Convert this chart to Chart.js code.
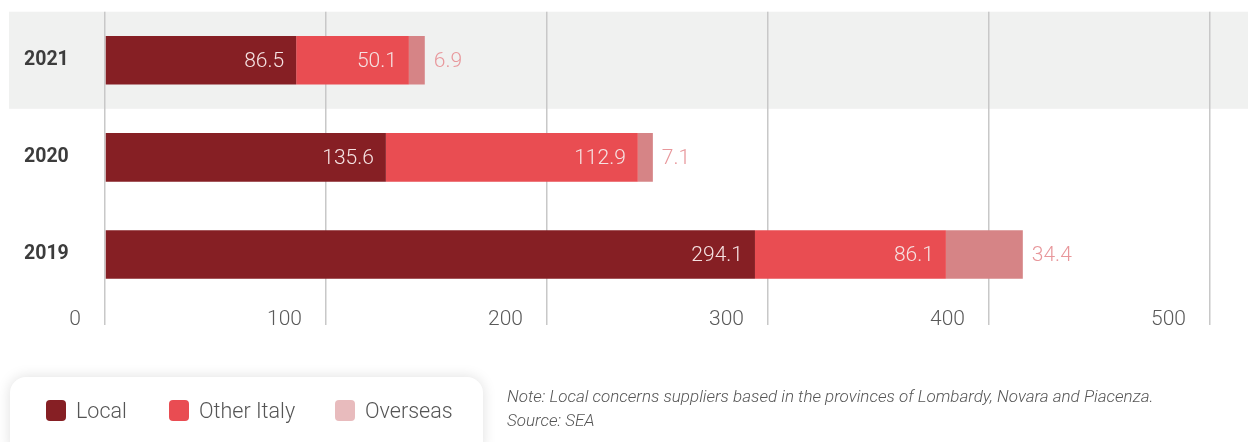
<!DOCTYPE html>
<html>
<head>
<meta charset="utf-8">
<script src="https://cdn.jsdelivr.net/npm/chart.js@4.4.1/dist/chart.umd.min.js"></script>
<style>
  html, body { margin: 0; padding: 0; background: #ffffff; }
  body { width: 1248px; height: 442px; position: relative; overflow: hidden; font-family: Roboto, "Noto Sans", sans-serif; }
  #wrap { position: absolute; left: 0; top: 0; width: 1248px; height: 442px; }
  #legendBox {
    position: absolute; left: 10px; top: 377px; width: 473px; height: 80px;
    background: #fff; border-radius: 16px;
    box-shadow: 0 0 14px rgba(0,0,0,0.13);
  }
  .item { position: absolute; top: 23px; height: 21px; display: flex; align-items: center; font-weight: 300; font-size: 21.5px; color: #555; white-space: nowrap; }
  .sw { width: 20px; height: 21px; border-radius: 4px; margin-right: 10px; flex: none; }
  #note { position: absolute; left: 507px; top: 384px; font-style: italic; font-weight: 300; font-size: 17px; line-height: 24px; color: #555; white-space: nowrap; }
</style>
</head>
<body>
<div id="wrap"><canvas id="c"></canvas></div>
<div id="legendBox"></div>
<div id="note"></div>
<script>
// ---- data ----
const categories = ['2021', '2020', '2019'];
const seriesNames = ['Local', 'Other Italy', 'Overseas'];
// bar lengths
const localValues = [86.5, 127.1, 294.1];
const otherItalyValues = [51.0, 114.0, 86.4];
const overseasValues = [7.2, 6.8, 34.8];
// printed value labels
const localLabels = ['86.5', '135.6', '294.1'];
const otherItalyLabels = ['50.1', '112.9', '86.1'];
const overseasLabels = ['6.9', '7.1', '34.4'];
const xTicks = [0, 100, 200, 300, 400, 500];
const noteLines = ['Note: Local concerns suppliers based in the provinces of Lombardy, Novara and Piacenza.', 'Source: SEA'];

// ---- styles ----
const barColors = ['#861f24', '#e94d52', '#d68486'];
const legendColors = ['#861f24', '#e94c52', '#e8bbbd'];

// legend (HTML)
const legendBox = document.getElementById('legendBox');
const legendX = [36, 159, 325];
seriesNames.forEach((n, i) => {
  const d = document.createElement('div');
  d.className = 'item';
  d.style.left = legendX[i] + 'px';
  d.innerHTML = '<div class="sw" style="background:' + legendColors[i] + '"></div><span>' + n + '</span>';
  legendBox.appendChild(d);
});
document.getElementById('note').innerHTML = noteLines.join('<br>');

const seriesValues = [localValues, otherItalyValues, overseasValues];
const seriesLabels = [localLabels, otherItalyLabels, overseasLabels];

// band behind first category
const bandPlugin = {
  id: 'band',
  beforeDraw(chart) {
    const y = chart.scales.y;
    const p0 = y.getPixelForValue(0), p1 = y.getPixelForValue(1);
    const half = (p1 - p0) / 2;
    const ctx = chart.ctx;
    ctx.save();
    ctx.fillStyle = '#f0f1f0';
    ctx.fillRect(9, p0 - half, chart.width - 9, 2 * half);
    ctx.restore();
  }
};

// value labels
const valueLabels = {
  id: 'valueLabels',
  afterDatasetsDraw(chart) {
    const ctx = chart.ctx;
    ctx.save();
    ctx.font = '300 21px Roboto';
    ctx.textBaseline = 'middle';
    chart.data.datasets.forEach((ds, di) => {
      const meta = chart.getDatasetMeta(di);
      meta.data.forEach((bar, i) => {
        const txt = seriesLabels[di][i];
        if (di < 2) {
          ctx.fillStyle = '#f5e2e2';
          ctx.textAlign = 'right';
          ctx.fillText(txt, bar.x - 12, bar.y + 1);
        } else {
          ctx.fillStyle = '#e8979b';
          ctx.textAlign = 'left';
          ctx.fillText(txt, bar.x + 9, bar.y + 1);
        }
      });
    });
    ctx.restore();
  }
};

new Chart(document.getElementById('c'), {
  type: 'bar',
  data: {
    labels: categories,
    datasets: seriesNames.map((n, i) => ({
      label: n,
      data: seriesValues[i],
      backgroundColor: barColors[i],
      borderWidth: 0,
      categoryPercentage: 1.0,
      barPercentage: 0.5
    }))
  },
  options: {
    indexAxis: 'y',
    responsive: true,
    maintainAspectRatio: false,
    animation: false,
    layout: { padding: { left: 24, right: 38, top: 10, bottom: 99 } },
    plugins: { legend: { display: false }, tooltip: { enabled: false } },
    scales: {
      x: {
        stacked: true,
        min: 0, max: 500,
        afterBuildTicks(scale) { scale.ticks = xTicks.map(v => ({ value: v })); },
        afterFit(scale) { scale.height = 40; },
        grid: { color: '#c8c8c8', lineWidth: 1.5, drawTicks: true, tickLength: 22, tickColor: '#c8c8c8' },
        border: { display: false },
        ticks: {
          color: '#5a5a5a', font: { family: 'Roboto', size: 21, weight: 300 },
          align: 'end', labelOffset: -24, padding: -18, autoSkip: false, maxRotation: 0
        }
      },
      y: {
        stacked: true,
        afterFit(scale) { scale.width = 81; },
        grid: { display: false },
        border: { display: false },
        ticks: {
          color: '#3c3c3c', font: { family: 'Roboto', size: 19.5, weight: 'bold' },
          crossAlign: 'far', padding: 0
        }
      }
    }
  },
  plugins: [bandPlugin, valueLabels]
});
</script>
</body>
</html>
